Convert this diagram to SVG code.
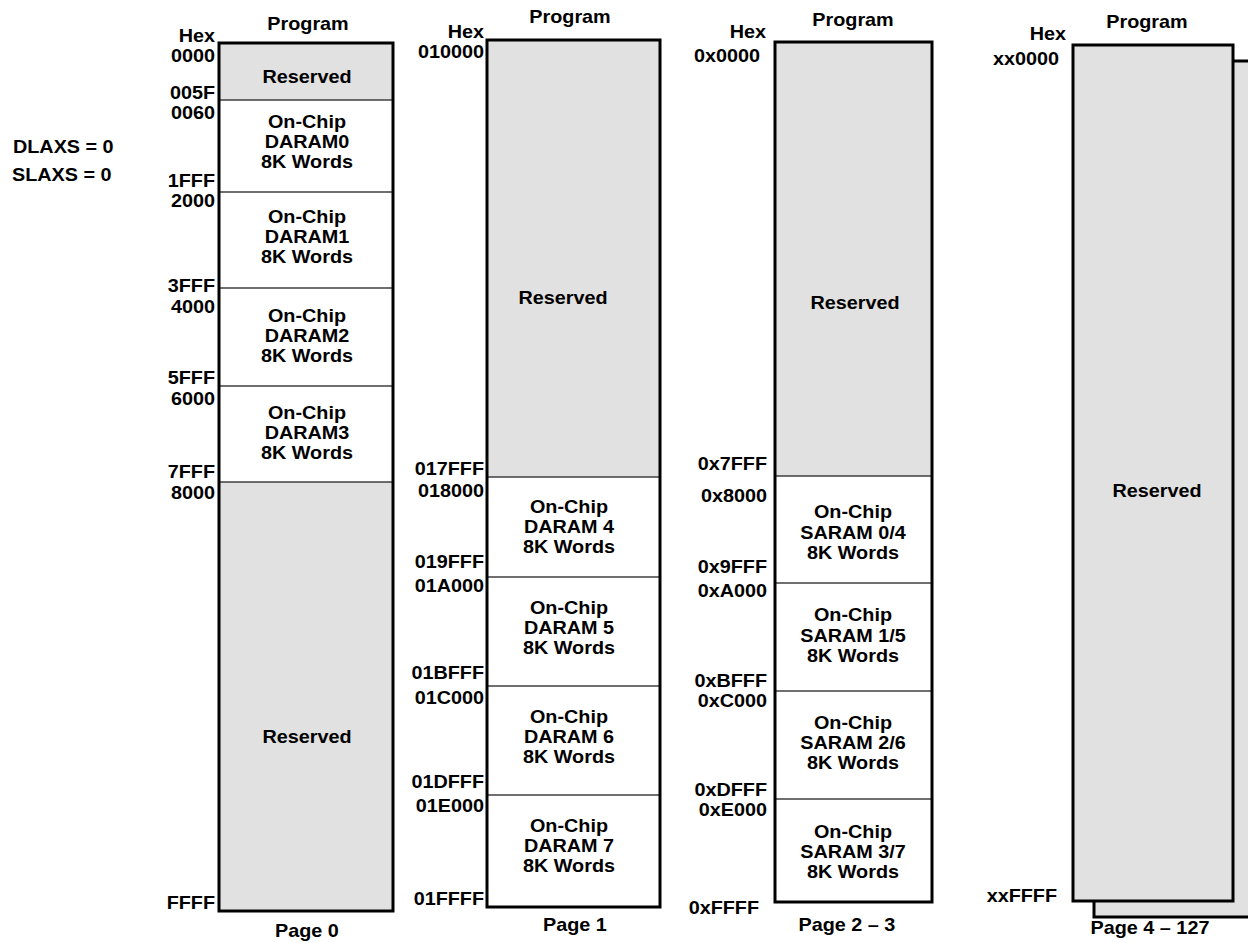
<svg xmlns="http://www.w3.org/2000/svg" width="1248" height="943" viewBox="0 0 1248 943">
<style>
text{font-family:"Liberation Sans",Arial,Helvetica,sans-serif;font-weight:bold;font-size:18px;fill:#000}
.c{text-anchor:middle}
.r{text-anchor:end}
.g{fill:#e1e1e1}
.w{fill:#fff}
.dv{stroke:#404040;stroke-width:1.5;fill:none}
.fr{fill:none;stroke:#000;stroke-width:3}
</style>
<rect width="1248" height="943" fill="#fff"/>

<g id="mode">
<g transform="matrix(1.1 0 0 1 -1.3 0)"><text x="13" y="153">DLAXS = 0</text></g>
<g transform="matrix(1.1 0 0 1 -1.2 0)"><text x="12" y="181">SLAXS = 0</text></g>
</g>

<!-- Page 0 -->
<g id="page0">
<rect class="g" x="219" y="43" width="174" height="57"/>
<rect class="w" x="219" y="100" width="174" height="382"/>
<rect class="g" x="219" y="482" width="174" height="429"/>
<g id="p0-reserved-low"><g transform="matrix(1.1 0 0 1 -30.7 0)"><text class="c" x="307" y="83">Reserved</text></g></g>
<g id="p0-daram0"><g transform="matrix(1.1 0 0 1 -30.7 0)"><text class="c" x="307" y="128">On-Chip</text><text class="c" x="307" y="148">DARAM0</text><text class="c" x="307" y="168">8K Words</text></g></g>
<g id="p0-daram1"><g transform="matrix(1.1 0 0 1 -30.7 0)"><text class="c" x="307" y="223">On-Chip</text><text class="c" x="307" y="243">DARAM1</text><text class="c" x="307" y="263">8K Words</text></g></g>
<g id="p0-daram2"><g transform="matrix(1.1 0 0 1 -30.7 0)"><text class="c" x="307" y="322">On-Chip</text><text class="c" x="307" y="342">DARAM2</text><text class="c" x="307" y="362">8K Words</text></g></g>
<g id="p0-daram3"><g transform="matrix(1.1 0 0 1 -30.7 0)"><text class="c" x="307" y="419">On-Chip</text><text class="c" x="307" y="439">DARAM3</text><text class="c" x="307" y="459">8K Words</text></g></g>
<g id="p0-reserved-high"><g transform="matrix(1.1 0 0 1 -30.7 0)"><text class="c" x="307" y="743">Reserved</text></g></g>
<path class="dv" d="M219 100H393M219 192H393M219 288H393M219 386H393M219 482H393"/>
<rect class="fr" x="219" y="43" width="174" height="868"/>
<g transform="matrix(1.1 0 0 1 -30.8 0)"><text class="c" x="308" y="30">Program</text></g>
<g transform="matrix(1.1 0 0 1 -30.7 0)"><text class="c" x="307" y="937">Page 0</text></g>
<g transform="matrix(1.1 0 0 1 -21.5 0)">
<text class="r" x="215" y="42">Hex</text>
<text class="r" x="215" y="62">0000</text>
<text class="r" x="215" y="99">005F</text>
<text class="r" x="215" y="119">0060</text>
<text class="r" x="215" y="187">1FFF</text>
<text class="r" x="215" y="207">2000</text>
<text class="r" x="215" y="292">3FFF</text>
<text class="r" x="215" y="313">4000</text>
<text class="r" x="215" y="384">5FFF</text>
<text class="r" x="215" y="405">6000</text>
<text class="r" x="215" y="478">7FFF</text>
<text class="r" x="215" y="499">8000</text>
<text class="r" x="215" y="909">FFFF</text>
</g>
</g>

<!-- Page 1 -->
<g id="page1">
<rect class="g" x="487" y="40" width="173" height="437"/>
<rect class="w" x="487" y="477" width="173" height="430"/>
<g id="p1-reserved"><g transform="matrix(1.1 0 0 1 -56.3 0)"><text class="c" x="563" y="304">Reserved</text></g></g>
<g id="p1-daram4"><g transform="matrix(1.1 0 0 1 -56.9 0)"><text class="c" x="569" y="513">On-Chip</text><text class="c" x="569" y="533">DARAM 4</text><text class="c" x="569" y="553">8K Words</text></g></g>
<g id="p1-daram5"><g transform="matrix(1.1 0 0 1 -56.9 0)"><text class="c" x="569" y="614">On-Chip</text><text class="c" x="569" y="634">DARAM 5</text><text class="c" x="569" y="654">8K Words</text></g></g>
<g id="p1-daram6"><g transform="matrix(1.1 0 0 1 -56.9 0)"><text class="c" x="569" y="723">On-Chip</text><text class="c" x="569" y="743">DARAM 6</text><text class="c" x="569" y="763">8K Words</text></g></g>
<g id="p1-daram7"><g transform="matrix(1.1 0 0 1 -56.9 0)"><text class="c" x="569" y="832">On-Chip</text><text class="c" x="569" y="852">DARAM 7</text><text class="c" x="569" y="872">8K Words</text></g></g>
<path class="dv" d="M487 477H660M487 577H660M487 686H660M487 795H660"/>
<rect class="fr" x="487" y="40" width="173" height="867"/>
<g transform="matrix(1.1 0 0 1 -57 0)"><text class="c" x="570" y="23">Program</text></g>
<g transform="matrix(1.1 0 0 1 -57.5 0)"><text class="c" x="575" y="931">Page 1</text></g>
<g transform="matrix(1.1 0 0 1 -48.4 0)">
<text class="r" x="484" y="38">Hex</text>
<text class="r" x="484" y="58">010000</text>
<text class="r" x="484" y="475">017FFF</text>
<text class="r" x="484" y="497">018000</text>
<text class="r" x="484" y="568">019FFF</text>
<text class="r" x="484" y="592">01A000</text>
<text class="r" x="484" y="679">01BFFF</text>
<text class="r" x="484" y="704">01C000</text>
<text class="r" x="484" y="788">01DFFF</text>
<text class="r" x="484" y="812">01E000</text>
<text class="r" x="484" y="905">01FFFF</text>
</g>
</g>

<!-- Page 2-3 -->
<g id="page2-3">
<rect class="g" x="775" y="42" width="157" height="434"/>
<rect class="w" x="775" y="476" width="157" height="426"/>
<g id="p2-reserved"><g transform="matrix(1.1 0 0 1 -85.5 0)"><text class="c" x="855" y="309">Reserved</text></g></g>
<g id="p2-saram04"><g transform="matrix(1.1 0 0 1 -85.3 0)"><text class="c" x="853" y="518">On-Chip</text><text class="c" x="853" y="539">SARAM 0/4</text><text class="c" x="853" y="559">8K Words</text></g></g>
<g id="p2-saram15"><g transform="matrix(1.1 0 0 1 -85.3 0)"><text class="c" x="853" y="621">On-Chip</text><text class="c" x="853" y="642">SARAM 1/5</text><text class="c" x="853" y="662">8K Words</text></g></g>
<g id="p2-saram26"><g transform="matrix(1.1 0 0 1 -85.3 0)"><text class="c" x="853" y="729">On-Chip</text><text class="c" x="853" y="749">SARAM 2/6</text><text class="c" x="853" y="769">8K Words</text></g></g>
<g id="p2-saram37"><g transform="matrix(1.1 0 0 1 -85.3 0)"><text class="c" x="853" y="838">On-Chip</text><text class="c" x="853" y="858">SARAM 3/7</text><text class="c" x="853" y="878">8K Words</text></g></g>
<path class="dv" d="M775 476H932M775 583H932M775 691H932M775 799H932"/>
<rect class="fr" x="775" y="42" width="157" height="860"/>
<g transform="matrix(1.1 0 0 1 -85.3 0)"><text class="c" x="853" y="26">Program</text></g>
<g transform="matrix(1.1 0 0 1 -84.7 0)"><text class="c" x="847" y="931">Page 2 – 3</text></g>
<g transform="matrix(1.1 0 0 1 -76.6 0)"><text class="r" x="766" y="38">Hex</text></g>
<g transform="matrix(1.1 0 0 1 -76 0)"><text class="r" x="760" y="62">0x0000</text></g>
<g transform="matrix(1.1 0 0 1 -76.7 0)">
<text class="r" x="767" y="470">0x7FFF</text>
<text class="r" x="767" y="502">0x8000</text>
<text class="r" x="767" y="573">0x9FFF</text>
<text class="r" x="767" y="597">0xA000</text>
<text class="r" x="767" y="687">0xBFFF</text>
<text class="r" x="767" y="707">0xC000</text>
<text class="r" x="767" y="796">0xDFFF</text>
<text class="r" x="767" y="816">0xE000</text>
</g>
<g transform="matrix(1.1 0 0 1 -75.9 0)"><text class="r" x="759" y="914">0xFFFF</text></g>
</g>

<!-- Page 4-127 -->
<g id="page4-127">
<rect class="g" x="1094" y="61" width="170" height="856" stroke="#000" stroke-width="3"/>
<rect class="g" x="1073" y="45" width="160" height="856" stroke="#000" stroke-width="3"/>
<g id="p4-reserved"><g transform="matrix(1.1 0 0 1 -115.7 0)"><text class="c" x="1157" y="497">Reserved</text></g></g>
<g transform="matrix(1.1 0 0 1 -114.7 0)"><text class="c" x="1147" y="28">Program</text></g>
<g transform="matrix(1.1 0 0 1 -115 0)"><text class="c" x="1150" y="934">Page 4 – 127</text></g>
<g transform="matrix(1.1 0 0 1 -106.6 0)"><text class="r" x="1066" y="40">Hex</text></g>
<g transform="matrix(1.1 0 0 1 -105.9 0)"><text class="r" x="1059" y="65">xx0000</text></g>
<g transform="matrix(1.1 0 0 1 -105.7 0)"><text class="r" x="1057" y="902">xxFFFF</text></g>
</g>

<g id="connectors"/>
</svg>
